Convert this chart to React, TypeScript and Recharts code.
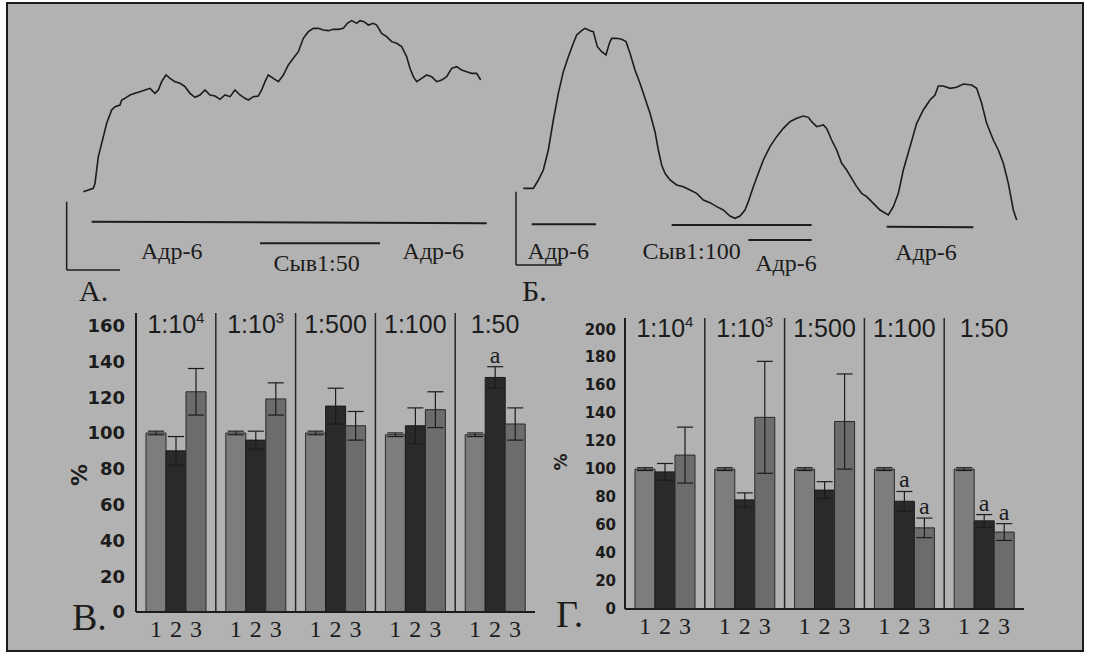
import React from "react";
import {
  LineChart,
  Line,
  XAxis,
  YAxis,
  ReferenceLine,
  ReferenceDot,
  BarChart,
  Bar,
  ErrorBar,
  LabelList,
} from "recharts";

// ---- trace A (time, signal in arbitrary units) ----
const traceATime = [
  70, 100, 105, 115, 125, 140, 155, 165, 180, 185, 195, 210, 225, 240, 255, 270, 285, 295, 305, 318,
  330, 345, 360, 375, 390, 405, 420, 435, 450, 465, 480, 495, 510, 525, 540, 555, 565, 580, 595, 605,
  615, 625, 640, 655, 670, 685, 700, 715, 730, 745, 760, 775, 790, 805, 820, 835, 850, 862, 875, 890,
  900, 912, 925, 940, 950, 965, 980, 995, 1010, 1025, 1040, 1050, 1060, 1070, 1085, 1100, 1115, 1130,
  1145, 1160, 1175, 1190, 1205, 1220, 1235, 1250, 1262,
];
const traceAValue = [
  55, 65, 80, 160, 200, 260, 300, 310, 315, 330, 335, 345, 350, 355, 360, 365, 350, 360, 385, 405,
  395, 385, 380, 370, 350, 338, 345, 360, 345, 342, 332, 345, 340, 360, 345, 335, 330, 340, 342, 360,
  385, 405, 395, 385, 405, 435, 455, 475, 515, 535, 545, 545, 540, 538, 542, 542, 545, 560, 568, 560,
  568, 565, 555, 560, 555, 530, 520, 505, 500, 490, 460, 425, 400, 385, 395, 405, 400, 385,
  390, 400, 425, 430, 420, 415, 410, 410, 390,
];

// ---- trace Б ----
const traceBTime = [
  40, 70, 85, 100, 115, 130, 145, 160, 175, 190, 200, 215, 225, 240, 250, 262, 275, 288, 298, 305,
  320, 335, 348, 360, 375, 390, 405, 420, 435, 445, 455, 465, 480, 500, 520, 540, 560, 580, 600, 620,
  640, 660, 675, 690, 705, 715, 730, 745, 760, 780, 800, 820, 840, 860, 880, 895, 905, 920, 940, 950,
  965, 980, 995, 1010, 1025, 1040, 1055, 1070, 1090, 1110, 1135, 1150, 1165, 1180, 1200, 1220, 1240,
  1260, 1275, 1285, 1300, 1320, 1340, 1360, 1385, 1400, 1415, 1430, 1450, 1465, 1480, 1495, 1510, 1520,
];
const traceBValue = [
  65, 65, 90, 120, 180, 270, 350, 415, 460, 500, 525, 538, 545, 538, 535, 490, 475, 465, 500, 515,
  515, 512, 505, 470, 420, 380, 335, 290, 235, 180, 135, 110, 90, 75, 70, 60, 50, 30, 22, 10,
  0, -18, -25, -18, 0, 25, 70, 110, 150, 190, 220, 245, 265, 275, 282, 278, 265, 250, 255, 245,
  210, 180, 140, 120, 95, 70, 50, 40, 20, 0, -15, 10, 50, 120, 190, 260, 300,
  330, 345, 372, 372, 365, 368, 378, 375, 365, 320, 260, 210, 180, 140, 80, 0, -30,
];

// stimulus marks under the traces: [start, end, level at start, level at end]
const stimA = [
  [95, 1280, -35, -40],
  [600, 960, -100, -100],
];
const stimB = [
  [65, 258, -43, -43],
  [485, 905, -45, -45],
  [715, 905, -90, -90],
  [1130, 1390, -50, -52],
];
const labelsA = [
  { t: 335, v: -122, text: "Адр-6" },
  { t: 770, v: -157, text: "Сыв1:50" },
  { t: 1120, v: -122, text: "Адр-6" },
];
const labelsB = [
  { t: 145, v: -120, text: "Адр-6" },
  { t: 545, v: -120, text: "Сыв1:100" },
  { t: 828, v: -157, text: "Адр-6" },
  { t: 1248, v: -124, text: "Адр-6" },
];
// scale bars [x, top, bottom, right]
const scaleA = [20, 25, -180, 180];
const scaleB = [18, 55, -165, 155];

// ---- bar panels ----
const groups = ["1:10^4", "1:10^3", "1:500", "1:100", "1:50"];

const vMean1 = [100, 100, 100, 99, 99];
const vErr1 = [1, 1, 1, 1, 1];
const vMean2 = [90, 96, 115, 104, 131];
const vErr2 = [8, 5, 10, 10, 6];
const vMean3 = [123, 119, 104, 113, 105];
const vErr3 = [13, 9, 8, 10, 9];
const vSig2 = [false, false, false, false, true];
const vSig3 = [false, false, false, false, false];
const vTicks = [0, 20, 40, 60, 80, 100, 120, 140, 160];

const gMean1 = [100, 100, 100, 100, 100];
const gErr1 = [1, 1, 1, 1, 1];
const gMean2 = [98, 78, 85, 77, 63];
const gErr2 = [6, 5, 6, 7, 4.5];
const gMean3 = [110, 137, 134, 58, 55];
const gErr3 = [20, 40, 34, 7, 6];
const gSig2 = [false, false, false, true, true];
const gSig3 = [false, false, false, true, true];
const gTicks = [0, 20, 40, 60, 80, 100, 120, 140, 160, 180, 200];

const INK = "#1c1c1c";
const SERIF = "'Liberation Serif', 'Times New Roman', serif";
const SANS = "'Liberation Sans', Arial, sans-serif";
const BOLD_SANS = "'DejaVu Sans', sans-serif";

const traceA = traceATime.map((t, i) => ({ t, v: traceAValue[i] }));
const traceB = traceBTime.map((t, i) => ({ t, v: traceBValue[i] }));

function Trace({ data, stim, labels, scale, width, domainX }: any) {
  return (
    <LineChart width={width} height={290} data={data} margin={{ top: 0, right: 0, bottom: 0, left: 0 }}>
      <XAxis type="number" dataKey="t" domain={[0, domainX]} hide />
      <YAxis type="number" domain={[-270, 600]} hide />
      <Line type="linear" dataKey="v" stroke={INK} strokeWidth={1.6} dot={false} isAnimationActive={false} />
      {stim.map((s: number[], i: number) => (
        <ReferenceLine
          key={"s" + i}
          segment={[{ x: s[0], y: s[2] }, { x: s[1], y: s[3] }]}
          stroke={INK}
          strokeWidth={2}
          ifOverflow="visible"
        />
      ))}
      <ReferenceLine segment={[{ x: scale[0], y: scale[1] }, { x: scale[0], y: scale[2] }]} stroke={INK} strokeWidth={1.5} ifOverflow="visible" />
      <ReferenceLine segment={[{ x: scale[0], y: scale[2] }, { x: scale[3], y: scale[2] }]} stroke={INK} strokeWidth={1.5} ifOverflow="visible" />
      {labels.map((l: any, i: number) => (
        <ReferenceDot
          key={"l" + i}
          x={l.t}
          y={l.v}
          r={0}
          fill="none"
          stroke="none"
          ifOverflow="visible"
          label={{ value: l.text, position: "center", fill: INK, fontSize: 24, fontFamily: SERIF }}
        />
      ))}
    </LineChart>
  );
}

// bottom tick: bar numbers under the group, dilution label at the top of the plot
const GroupTick = (plotH: number, topBase: number) => (props: any) => {
  const { x, y, payload } = props;
  const [base, exp] = String(payload.value).split("^");
  return (
    <g>
      {["1", "2", "3"].map((s, i) => (
        <text key={s} x={x + (i - 1) * 20} y={y + 25} textAnchor="middle" fontFamily={SERIF} fontSize={24} fill={INK}>
          {s}
        </text>
      ))}
      <text x={x} y={y - plotH + topBase} textAnchor="middle" fontFamily={SANS} fontSize={25} fill={INK}>
        <tspan>{base}</tspan>
        {exp && (
          <tspan dy={-10} fontSize={15}>
            {exp}
          </tspan>
        )}
      </text>
    </g>
  );
};

const sigLabel = (sig: boolean[], err: number[], pxPerUnit: number) => (props: any) => {
  const vb = props.viewBox || props;
  const idx = props.index;
  if (!sig[idx]) return null;
  const x = vb.x + vb.width / 2;
  const y = vb.y - err[idx] * pxPerUnit - 4;
  return (
    <text x={x} y={y} textAnchor="middle" fontFamily={SERIF} fontSize={24} fill={INK}>
      a
    </text>
  );
};

function BarPanel({ m1, e1, m2, e2, m3, e3, s2, s3, ticks, domainMax, width, margin, yWidth, tickSize, tickMargin, topBase }: any) {
  const data = groups.map((g, i) => ({
    group: g,
    m1: m1[i],
    e1: e1[i],
    m2: m2[i],
    e2: e2[i],
    m3: m3[i],
    e3: e3[i],
  }));
  const plotH = 350 - margin.top - margin.bottom - 30;
  const ppu = plotH / domainMax;
  return (
    <BarChart width={width} height={350} data={data} margin={margin} barGap={0} barSize={20}>
      <XAxis
        dataKey="group"
        height={30}
        axisLine={{ stroke: INK, strokeWidth: 2 }}
        tickLine={false}
        tickSize={0}
        tickMargin={0}
        tick={GroupTick(plotH, topBase)}
        interval={0}
      />
      <YAxis
        width={yWidth}
        domain={[0, domainMax]}
        ticks={ticks}
        interval={0}
        axisLine={{ stroke: INK, strokeWidth: 2 }}
        tickLine={false}
        tickMargin={tickMargin}
        tick={{ fill: INK, fontSize: tickSize, fontFamily: BOLD_SANS, fontWeight: "bold" }}
      />
      {groups.slice(1).map((g) => (
        <ReferenceLine key={g} x={g} position="start" stroke="#262626" strokeWidth={1.5} />
      ))}
      <Bar dataKey="m1" fill="#7d7d7d" stroke="#2a2a2a" strokeWidth={1} isAnimationActive={false}>
        <ErrorBar dataKey="e1" width={8} stroke={INK} strokeWidth={1.2} />
      </Bar>
      <Bar dataKey="m2" fill="#2a2a2a" stroke="#1a1a1a" strokeWidth={1} isAnimationActive={false}>
        <ErrorBar dataKey="e2" width={8} stroke={INK} strokeWidth={1.2} />
        <LabelList dataKey="m2" content={sigLabel(s2, e2, ppu)} />
      </Bar>
      <Bar dataKey="m3" fill="#6c6c6c" stroke="#2a2a2a" strokeWidth={1} isAnimationActive={false}>
        <ErrorBar dataKey="e3" width={8} stroke={INK} strokeWidth={1.2} />
        <LabelList dataKey="m3" content={sigLabel(s3, e3, ppu)} />
      </Bar>
    </BarChart>
  );
}

const abs = (left: number, top: number): React.CSSProperties => ({ position: "absolute", left, top });

const letter = (text: string, left: number, top: number, size: number) => (
  <div style={{ ...abs(left, top), fontFamily: SERIF, fontSize: size, lineHeight: 1, color: INK }}>{text}</div>
);

const pct = (cx: number, cy: number, size: number) => (
  <div
    style={{
      ...abs(cx, cy),
      transform: "translate(-50%, -50%) rotate(-90deg)",
      fontFamily: BOLD_SANS,
      fontWeight: "bold",
      fontSize: size,
      lineHeight: 1,
      color: INK,
    }}
  >
    %
  </div>
);

export default function App() {
  return (
    <div style={{ position: "absolute", left: 0, top: 0, width: 1093, height: 656, background: "#ffffff", overflow: "hidden" }}>
      <div
        style={{
          ...abs(6, 2),
          width: 1074,
          height: 646,
          border: `2px solid ${INK}`,
          background: "#b2b2b2",
        }}
      />
      <div style={abs(60, 10)}>
        <Trace data={traceA} stim={stimA} labels={labelsA} scale={scaleA} width={440} domainX={1320} />
      </div>
      <div style={abs(510, 10)}>
        <Trace data={traceB} stim={stimB} labels={labelsB} scale={scaleB} width={540} domainX={1620} />
      </div>
      {letter("А.", 79, 276, 30)}
      {letter("Б.", 522, 276, 30)}

      <div style={abs(60, 300)}>
        <BarPanel
          m1={vMean1}
          e1={vErr1}
          m2={vMean2}
          e2={vErr2}
          m3={vMean3}
          e3={vErr3}
          s2={vSig2}
          s3={vSig3}
          ticks={vTicks}
          domainMax={167}
          width={480}
          margin={{ top: 13, right: 5, bottom: 8, left: 0 }}
          yWidth={76}
          tickSize={18}
          tickMargin={5}
          topBase={20}
        />
      </div>
      <div style={abs(540, 300)}>
        <BarPanel
          m1={gMean1}
          e1={gErr1}
          m2={gMean2}
          e2={gErr2}
          m3={gMean3}
          e3={gErr3}
          s2={gSig2}
          s3={gSig3}
          ticks={gTicks}
          domainMax={208}
          width={520}
          margin={{ top: 18, right: 36, bottom: 11, left: 0 }}
          yWidth={85}
          tickSize={15}
          tickMargin={3}
          topBase={19}
        />
      </div>
      {pct(80, 475, 22)}
      {pct(561, 462, 17)}
      {letter("В.", 72, 598, 38)}
      {letter("Г.", 556, 595, 38)}
    </div>
  );
}
